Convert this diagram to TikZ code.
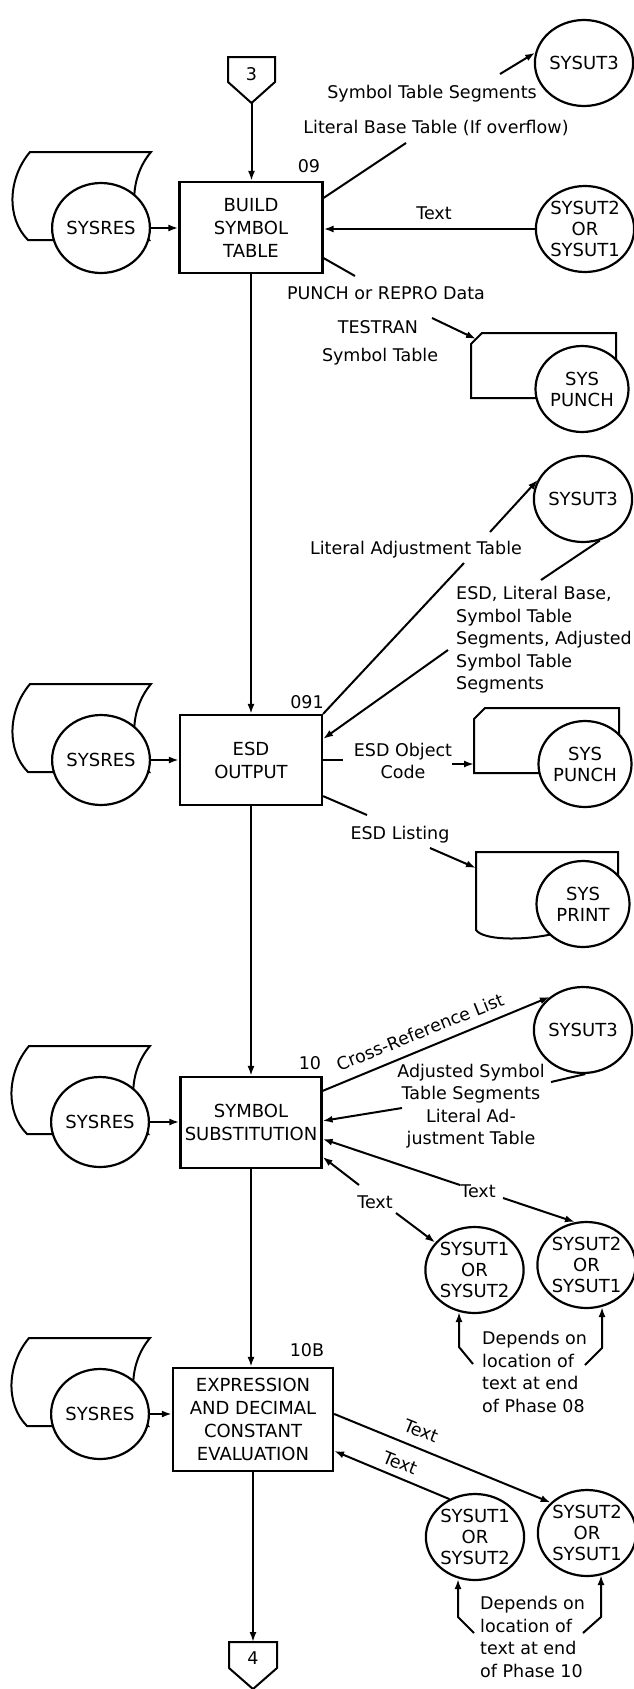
\documentclass[tikz,border=0pt]{standalone}
\usepackage{fontspec}
\setmainfont{DejaVu Sans}
\usetikzlibrary{arrows.meta,calc,shapes.geometric}

\tikzset{
  every node/.style={font=\fontsize{17.5}{22.5}\selectfont, inner sep=0pt},
  ln/.style={line width=2pt},
  flow/.style={line width=2pt, -{Latex[length=10pt,width=7pt]}},
  procbox/.style={draw, line width=2.2pt, fill=white, align=center, inner sep=0pt,
    font=\fontsize{18}{23}\selectfont},
  dev/.style={ellipse, draw, line width=2.2pt, fill=white, align=center,
    minimum width=93pt, minimum height=86pt, inner sep=0pt,
    font=\fontsize{18}{21}\selectfont},
}

% resident disk: sheared card behind a circle
\newcommand{\resdev}[3]{%
  \draw[ln,fill=white] ({#2-71},{#3-76}) -- ({#2+50},{#3-76})
    .. controls ({#2+28},{#3-50}) and ({#2+28},{#3-10}) .. ({#2+48},{#3+12})
    -- ({#2-73},{#3+12})
    .. controls ({#2-95},{#3-10}) and ({#2-93},{#3-50}) .. ({#2-71},{#3-76}) -- cycle;
  \node[dev, minimum height=90pt] (#1) at (#2,#3) {SYSRES};
}
% card punch: clipped card behind a circle
\newcommand{\punchdev}[3]{%
  \draw[ln,fill=white] ({#2-100},{#3-56}) -- ({#2+34},{#3-56}) -- ({#2+34},{#3+9})
    -- ({#2-111},{#3+9}) -- ({#2-111},{#3-45}) -- cycle;
  \coordinate (#1c) at ({#2-106},{#3-50});
  \coordinate (#1w) at ({#2-111},{#3});
  \node[dev] (#1) at (#2,#3) {SYS\\PUNCH};
}
% printer: document sheet behind a circle
\newcommand{\printdev}[3]{%
  \draw[ln,fill=white] ({#2-107},{#3-52}) -- ({#2+35},{#3-52}) -- ({#2+35},{#3+20})
    -- ({#2-30},{#3+30}) .. controls ({#2-62},{#3+37}) and ({#2-100},{#3+36}) .. ({#2-107},{#3+26})
    -- cycle;
  \coordinate (#1w) at ({#2-107},{#3-36});
  \node[dev] (#1) at (#2,#3) {SYS\\PRINT};
}

\begin{document}
\begin{tikzpicture}[x=1pt,y=-1pt]
\useasboundingbox (0,0) rectangle (633,1689);

% ---------- main line of phases ----------
\draw[ln] (228,57) -- (275,57) -- (275,82) -- (251.5,103) -- (228,82) -- cycle;
\node (c3) at (251.5,74) {3};
\coordinate (c3tip) at (251.5,103);

\node[procbox, minimum width=143pt, minimum height=91pt] (b1) at (251,227.5) {BUILD\\SYMBOL\\TABLE};
\node[procbox, minimum width=142pt, minimum height=90pt] (b2) at (251,760) {ESD\\OUTPUT};
\node[procbox, minimum width=141pt, minimum height=91pt] (b3) at (251,1122.5) {SYMBOL\\SUBSTITUTION};
\node[procbox, minimum width=160pt, minimum height=103pt] (b4) at (253,1419.5) {EXPRESSION\\AND DECIMAL\\CONSTANT\\EVALUATION};

\draw[ln] (229,1642) -- (277,1642) -- (277,1668) -- (253,1689) -- (229,1668) -- cycle;
\node (c4) at (253,1658) {4};
\coordinate (c4top) at (253,1642);

\node (n09) at (309,166) {09};
\node (n091) at (307,702) {091};
\node (n10) at (310,1063) {10};
\node (n10B) at (307,1350) {10B};

\draw[flow] (c3tip) -- (c3tip |- b1.north);
\draw[flow] (b1.south) -- (b1.south |- b2.north);
\draw[flow] (b2.south) -- (b2.south |- b3.north);
\draw[flow] (b3.south) -- (b3.south |- b4.north);
\draw[flow] (b4.south) -- (b4.south |- c4top);

% ---------- resident disks ----------
\resdev{r1}{101}{228}
\resdev{r2}{101}{760}
\resdev{r3}{100}{1122}
\resdev{r4}{100}{1414}
\draw[flow] (r1.east) -- (r1.east -| b1.west);
\draw[flow] (r2.east) -- (r2.east -| b2.west);
\draw[flow] (r3.east) -- (r3.east -| b3.west);
\draw[flow] (r4.east) -- (r4.east -| b4.west);

% ---------- phase 09 ----------
\node[dev] (u3a) at (584,63) {SYSUT3};
\node[dev] (u21a) at (585,229) {SYSUT2\\OR\\SYSUT1};
\punchdev{pu1}{582}{389}

\node (lsts) at (432,94) {Symbol Table Segments};
\node (llbt) at (436,128) {Literal Base Table (If overflow)};
\node (ltx1) at (434,213) {Text};
\node (lpun) at (386,293) {PUNCH or REPRO Data};
\node (ltes) at (378,327) {TESTRAN};
\node (lsym) at (380,357) {Symbol Table};

\coordinate (a1) at (500,74);
\coordinate (a2) at (406,143);
\coordinate (a3) at (355,276);
\coordinate (a4) at (432,318);
\draw[flow] (a1) -- (u3a.168);
\draw[ln] ($(b1.north east)+(0,17)$) -- (a2);
\draw[flow] (u21a.west) -- (u21a.west -| b1.east);
\draw[ln] ($(b1.south east)+(0,-16)$) -- (a3);
\draw[flow] (a4) -- (pu1c);

% ---------- phase 09I ----------
\node[dev] (u3b) at (583,499) {SYSUT3};
\punchdev{pu2}{585}{764}
\printdev{pr}{583}{904}

\node (llat) at (416,550) {Literal Adjustment Table};
\node[align=left, anchor=north west] (lesd) at (456,586)
  {ESD, Literal Base,\\Symbol Table\\Segments, Adjusted\\Symbol Table\\Segments};
\node[align=center] (lobj) at (403,761) {ESD Object\\Code};
\node (llst) at (400,835) {ESD Listing};

\coordinate (a5) at (464,563);
\coordinate (a6) at (490,532);
\coordinate (a7) at (541,580);
\coordinate (a8) at (448,650);
\coordinate (a9) at (343,760);
\coordinate (a10) at (452,764);
\coordinate (a11) at (367,815);
\coordinate (a12) at (430,848);
\draw[ln] (b2.north east) -- (a5);
\draw[flow] (a6) -- (u3b.157);
\draw[ln] (u3b.-68) -- (a7);
\draw[flow] (a8) -- ($(b2.north east)+(0,25)$);
\draw[ln] (b2.east) -- (a9);
\draw[flow] (a10) -- (pu2w);
\draw[ln] ($(b2.south east)+(0,-10)$) -- (a11);
\draw[flow] (a12) -- (prw);

% ---------- phase 10 ----------
\node[dev] (u3c) at (583,1030) {SYSUT3};
\node[dev] (p1l) at (474.5,1270) {SYSUT1\\OR\\SYSUT2};
\node[dev] (p1r) at (586.5,1265) {SYSUT2\\OR\\SYSUT1};

\node[rotate=22] (lxrf) at (420,1032) {Cross-Reference List};
\node[align=center] (ladj) at (471,1106)
  {Adjusted Symbol\\Table Segments\\Literal Ad-\\justment Table};
\node (ltx2) at (375,1202) {Text};
\node (ltx3) at (478,1191) {Text};
\node[align=left, anchor=north west] (ldp1) at (482,1331)
  {Depends on\\location of\\text at end\\of Phase 08};

\coordinate (a13) at (551,1082);
\coordinate (a14) at (402,1108);
\coordinate (a15) at (460,1185);
\coordinate (a16) at (503,1198);
\coordinate (a17) at (359,1185);
\coordinate (a18) at (396,1213);
\draw[flow] ($(b3.north east)+(0,15)$) -- (u3c.135);
\draw[ln] (u3c.-87) -- (a13);
\draw[flow] (a14) -- ($(b3.north east)+(0,45)$);
\draw[flow] (a15) -- ($(b3.north east)+(0,63)$);
\draw[flow] (a16) -- (p1r.105);
\draw[flow] (a17) -- ($(b3.north east)+(0,81)$);
\draw[flow] (a18) -- (p1l.145);

\coordinate (d1) at (473,1364);
\coordinate (d2) at (459,1347);
\coordinate (d3) at (585,1365);
\coordinate (d4) at (602,1348);
\draw[flow] (d1) -- (d2) -- (d2 |- p1l.-110);
\draw[flow] (d3) -- (d4) -- (d4 |- p1r.-70);

% ---------- phase 10B ----------
\node[dev] (p2l) at (475,1537) {SYSUT1\\OR\\SYSUT2};
\node[dev] (p2r) at (587,1533) {SYSUT2\\OR\\SYSUT1};

\node[rotate=-22] (ltx4) at (421,1431) {Text};
\node[rotate=-22] (ltx5) at (400,1463) {Text};
\node[align=left, anchor=north west] (ldp2) at (480,1596)
  {Depends on\\location of\\text at end\\of Phase 10};

\draw[flow] ($(b4.north east)+(0,47)$) -- (p2r.140);
\draw[flow] (p2l.124) -- ($(b4.north east)+(0,84)$);

\coordinate (d5) at (474,1633);
\coordinate (d6) at (458,1617);
\coordinate (d7) at (583,1633);
\coordinate (d8) at (601,1617);
\draw[flow] (d5) -- (d6) -- (d6 |- p2l.-110);
\draw[flow] (d7) -- (d8) -- (d8 |- p2r.-70);

\end{tikzpicture}
\end{document}
